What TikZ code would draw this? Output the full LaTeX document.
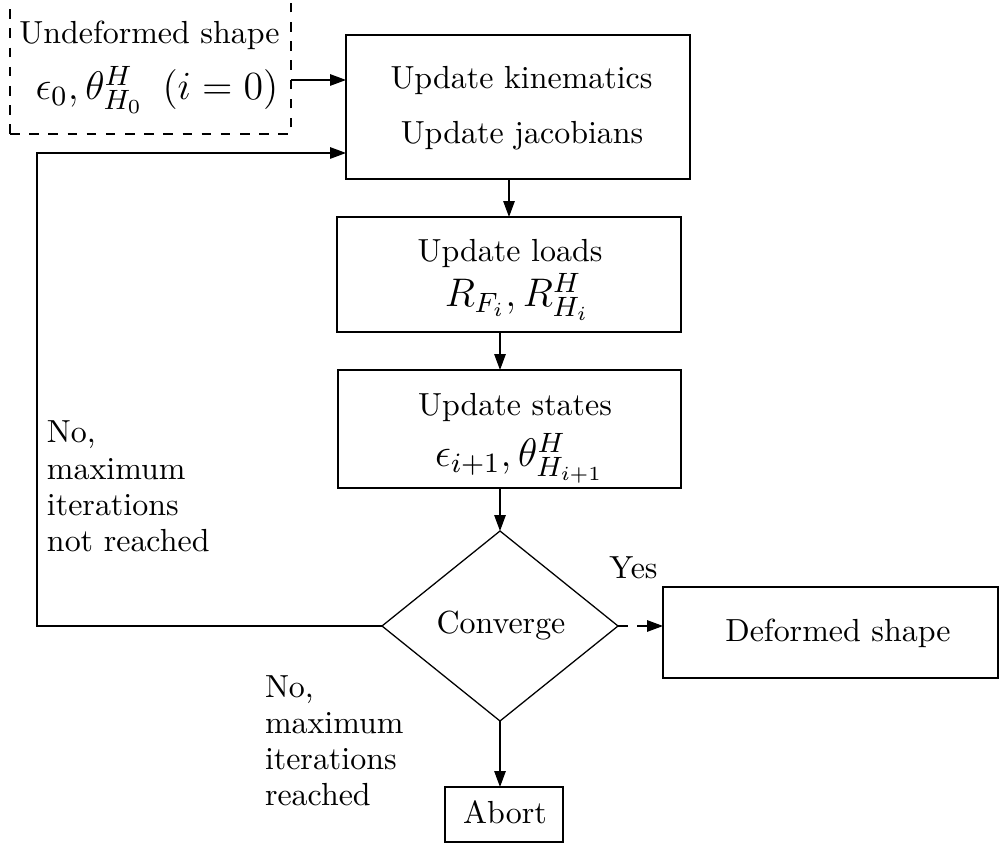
\RequirePackage{fix-cm}
\documentclass[tikz,border=0pt]{standalone}
\usetikzlibrary{shapes.geometric,arrows.meta}
\begin{document}
\begin{tikzpicture}[x=0.313pt,y=-0.313pt,
  every node/.style={font=\fontsize{10}{11.3}\selectfont, inner sep=0pt, outer sep=0pt},
  box/.style={draw, rectangle},
  dbox/.style={box, dashed},
  decision/.style={draw, diamond},
  mathtext/.style={font=\fontsize{12.5}{15}\selectfont},
  txt/.style={anchor=base},
  lbl/.style={anchor=base west},
  arr/.style={-{Triangle[length=5pt,width=3.6pt]}},
  darr/.style={arr, dashed}
]
\useasboundingbox (0,0) rectangle (999,847);

% boxes
\node[dbox, minimum width=87.95pt, minimum height=42.57pt] (init) at (150.5,66) {};
\node[box, minimum width=107.67pt, minimum height=45.07pt] (kin) at (518,107) {};
\node[box, minimum width=107.67pt, minimum height=36pt] (loads) at (509,274.5) {};
\node[box, minimum width=107.36pt, minimum height=36.93pt] (states) at (509.5,429) {};
\node[decision, minimum width=73.87pt, minimum height=59.47pt, aspect=1.24] (conv) at (500,626) {};
\node[box, minimum width=104.86pt, minimum height=28.48pt] (def) at (830.5,632.5) {};
\node[box, minimum width=36.93pt, minimum height=17.22pt] (abort) at (504,814.5) {};

% texts
\node[txt] (tinit1) at (149.5,43.3) {Undeformed shape};
\node[txt, mathtext] (tinit2) at (157,100) {$\epsilon_0,\theta^H_{H_0}\hspace{6pt}(i=0)$};
\node[txt] (tkin1) at (521.5,88.3) {Update kinematics};
\node[txt] (tkin2) at (522,143.3) {Update jacobians};
\node[txt] (tloads1) at (510,262) {Update loads};
\node[txt, mathtext] (tloads2) at (517,307) {$R_{F_i}, R^H_{H_i}$};
\node[txt] (tstates1) at (515,416) {Update states};
\node[txt, mathtext] (tstates2) at (519.5,467) {$\epsilon_{i+1},\theta^H_{H_{i+1}}$};
\node[txt] (tconv) at (501,633) {Converge};
\node[txt] (tdef) at (838,641.7) {Deformed shape};
\node[txt] (tabort) at (505,823) {Abort};
\node[txt] (tyes) at (633.5,579) {Yes};
\node[lbl] (tno1) at (47,443) {\begin{tabular}[t]{@{}l@{}}No,\\maximum\\iterations\\not reached\end{tabular}};
\node[lbl] (tno2) at (265,697) {\begin{tabular}[t]{@{}l@{}}No,\\maximum\\iterations\\reached\end{tabular}};

% connectors
\coordinate (a1) at (0,80);
\coordinate (fb) at (37,153);
\draw[arr] (init.east |- a1) -- (kin.west |- a1);
\draw[arr] (conv.west) -| (fb) -- (kin.west |- fb);
\draw[arr] (loads.north |- kin.south) -- (loads.north);
\draw[arr] (conv.north |- loads.south) -- (conv.north |- states.north);
\draw[arr] (conv.north |- states.south) -- (conv.north);
\draw[arr] (conv.south) -- (conv.south |- abort.north);
\draw[darr] (conv.east) -- (def.west |- conv.east);
\end{tikzpicture}
\end{document}
